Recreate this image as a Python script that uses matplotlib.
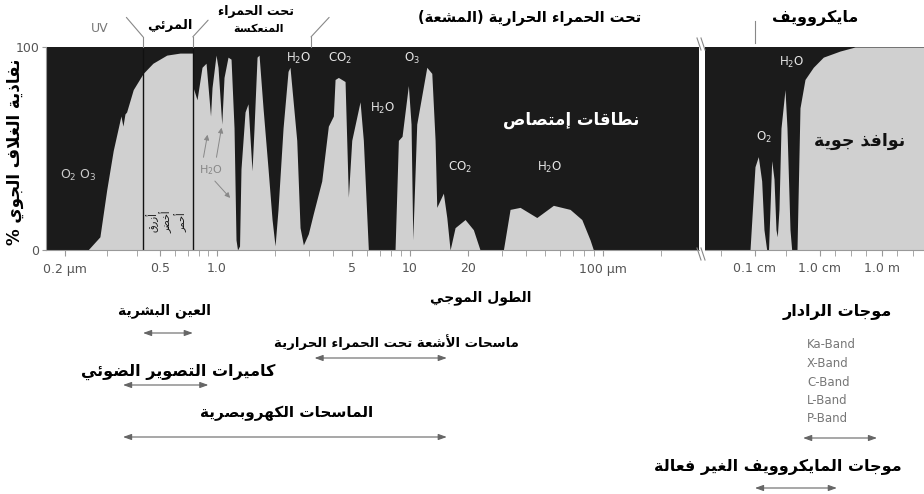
import numpy as np
import matplotlib
matplotlib.use('Agg')
import matplotlib.pyplot as plt
from matplotlib.lines import Line2D

# ---- data ----
# optical / infrared part: wavelength (µm) and atmospheric transmission (%)
wl_um = [0.1665, 0.2495, 0.280, 0.2989, 0.3184, 0.3430, 0.3497, 0.3565, 0.3623, 0.3862,
         0.4251, 0.4669, 0.5426, 0.6376, 0.744, 0.748, 0.784, 0.833, 0.875, 0.907,
         0.924, 0.941, 0.988, 1.012, 1.058, 1.087, 1.140, 1.182, 1.225, 1.254,
         1.277, 1.308, 1.331, 1.397, 1.447, 1.483, 1.518, 1.555, 1.612, 1.651,
         1.731, 1.838, 1.928, 1.998, 2.070, 2.198, 2.333, 2.388, 2.588, 2.692,
         2.801, 2.972, 3.155, 3.487, 3.773, 4.006, 4.088, 4.252, 4.605, 4.790,
         4.988, 5.508, 5.728, 6.081, 8.36, 8.70, 9.09, 9.80, 10.12, 10.33,
         10.83, 12.21, 12.96, 13.48, 13.75, 14.88, 15.50, 16.12, 17.11, 19.28,
         21.28, 23.05, 30.44, 32.97, 37.15, 45.35, 55.27, 67.45, 77.58, 85.6,
         89.1, 314]
trans_ir = [0, 0, 6.5, 29.5, 49, 66, 61, 67, 68, 79,
            87, 92, 96, 97, 97, 80, 74, 90, 92, 75,
            66, 80, 96, 90, 62, 85, 95, 94, 60, 5,
            0, 2, 40, 68, 72, 55, 39, 60, 95, 96,
            70, 40, 15, 2, 20, 60, 88, 90, 54, 11,
            2.5, 8, 18, 34, 61, 66, 84, 85, 83, 26,
            54, 73, 54, 0, 0, 54, 56, 81, 62, 5,
            62, 90, 87, 54, 21, 28, 16, 0, 11, 15,
            10, 0, 0, 20, 21, 16, 22, 20, 15, 5,
            0, 0]

# microwave part: wavelength (cm) and transmission (%)
wl_cm = [0.01702, 0.0838, 0.1, 0.1124, 0.1267, 0.1374, 0.1514, 0.1614, 0.1808, 0.196,
         0.2104, 0.2203, 0.2339, 0.2512, 0.2896, 0.3105, 0.3455, 0.3669, 0.4427, 0.4923,
         0.5877, 0.7887, 1.278, 4.42, 13.5, 2264]
trans_mw = [0, 0, 41, 46, 34, 10, 0, 0, 44, 35,
            10, 6.5, 20, 60, 79, 60, 10, 0, 0, 70,
            84, 90, 95, 98, 100, 100]

visible_edges = [0.4245, 0.745]      # µm
reflected_ir_end = 3.07              # µm

ticks_um = [0.2, 0.5, 1.0, 5, 10, 20, 100]
tick_labels_um = ['0.2 µm', '0.5', '1.0', '5', '10', '20', '100 µm']
minor_um = [0.3, 0.4, 0.6, 0.7, 0.8, 0.9, 2, 3, 4, 6, 7, 8, 9,
            30, 40, 50, 60, 70, 80, 90, 200]
ticks_cm = [0.1, 1.0, 100]
tick_labels_cm = ['0.1 cm', '1.0 cm', '1.0 m']
minor_cm = [0.03, 0.3, 3, 10, 30, 300, 1000]

# sensor ranges
eye_um = (0.4245, 0.745)
thermal_um = (3.2, 15.5)
camera_um = (0.35, 0.9)
eo_um = (0.35, 15.5)
radar_cm = (0.55, 69)
passive_cm = (0.1, 3.5)
radar_bands = ['Ka-Band', 'X-Band', 'C-Band', 'L-Band', 'P-Band']

# ---- minimal Arabic shaping (matplotlib draws glyphs left to right, unjoined) ----
_D = dict(zip('ئبتثجحخسشصضطظعغفقكلمنهي',
              [0xFE89, 0xFE8F, 0xFE95, 0xFE99, 0xFE9D, 0xFEA1, 0xFEA5, 0xFEB1, 0xFEB5, 0xFEB9,
               0xFEBD, 0xFEC1, 0xFEC5, 0xFEC9, 0xFECD, 0xFED1, 0xFED5, 0xFED9, 0xFEDD, 0xFEE1,
               0xFEE5, 0xFEE9, 0xFEF1]))
_R = dict(zip('آأؤإاةدذرزوى',
              [0xFE81, 0xFE83, 0xFE85, 0xFE87, 0xFE8D, 0xFE93, 0xFEA9, 0xFEAB, 0xFEAD, 0xFEAF,
               0xFEED, 0xFEEF]))
_LA = {'آ': 0xFEF5, 'أ': 0xFEF7, 'إ': 0xFEF9, 'ا': 0xFEFB}


def ar(s):
    toks = []
    i = 0
    while i < len(s):
        if s[i] == 'ل' and i + 1 < len(s) and s[i + 1] in _LA:
            toks.append(s[i:i + 2])
            i += 2
        else:
            toks.append(s[i])
            i += 1

    def kind(t):
        if t in _D:
            return 'D'
        if t in _R or len(t) == 2:
            return 'R'
        return 'U'

    out = []
    for k, t in enumerate(toks):
        kd = kind(t)
        prev = int(k > 0 and kind(toks[k - 1]) == 'D' and kd != 'U')
        nxt = int(kd == 'D' and k + 1 < len(toks) and kind(toks[k + 1]) != 'U')
        if len(t) == 2:
            out.append(chr(_LA[t[1]] + prev))
        elif kd == 'R':
            out.append(chr(_R[t] + prev))
        elif kd == 'D':
            out.append(chr(_D[t] + [[0, 2], [1, 3]][prev][nxt]))
        else:
            out.append({'(': ')', ')': '('}.get(t, t))
    return ''.join(reversed(out))


# piecewise log axis (the original drawing is not a strict log scale)
def logpiece(lg, px):
    lg = np.asarray(lg, float)
    px = np.asarray(px, float)
    s0 = (px[1] - px[0]) / (lg[1] - lg[0])
    s1 = (px[-1] - px[-2]) / (lg[-1] - lg[-2])
    lg = np.r_[lg[0] - 30, lg, lg[-1] + 30]
    px = np.r_[px[0] - 30 * s0, px, px[-1] + 30 * s1]

    def fwd(x):
        return np.interp(np.log10(np.maximum(x, 1e-35)), lg, px)

    def inv(p):
        return 10 ** np.interp(p, px, lg)
    return fwd, inv


plt.rcParams['font.family'] = ['DejaVu Sans']
W, H = 924, 494
DARK = '#1b1b1b'
LIGHT = '#d0d0d0'

fig = plt.figure(figsize=(W / 100, H / 100), dpi=100)
ax = fig.add_axes([46 / W, 1 - 250 / H, 653 / W, 203 / H])
ax2 = fig.add_axes([705 / W, 1 - 250 / H, 219 / W, 203 / H])

ax.set_xscale('function', functions=logpiece([np.log10(0.2), np.log10(0.5), 0, 2], [65, 160, 217, 603]))
ax2.set_xscale('function', functions=logpiece([-1, 0, 2], [755, 820, 882]))

for a in (ax, ax2):
    a.set_facecolor(DARK)
    a.set_ylim(0, 100)
    for sp in ('top', 'right'):
        a.spines[sp].set_visible(False)
    a.spines['bottom'].set_color('#999')
    a.tick_params(axis='x', which='both', direction='out', length=4, color='#999',
                  labelsize=9, labelcolor='#555', pad=5)

ax.fill_between(wl_um, trans_ir, 0, color=LIGHT, lw=0)
ax.set_xlim(0.1665, 314)
ax.set_xticks(ticks_um, labels=tick_labels_um)
ax.set_xticks(minor_um, minor=True)
ax.set_yticks([0, 100])
ax.tick_params(axis='y', length=3, color='#999', labelsize=9, labelcolor='#555', pad=2)
ax.spines['left'].set_color('#999')

ax2.fill_between(wl_cm, trans_mw, 0, color=LIGHT, lw=0)
ax2.set_xlim(0.01702, 2264)
ax2.set_xticks(ticks_cm, labels=tick_labels_cm)
ax2.set_xticks(minor_cm, minor=True)
ax2.set_yticks([])
ax2.spines['left'].set_visible(False)

# visible band edges and leader lines up to the region names
for x in visible_edges:
    ax.axvline(x, color='#111', lw=1)
trx = ax.get_xaxis_transform()
for x, dx, dy in [(visible_edges[0], -12, 14), (visible_edges[1], 11, 12), (reflected_ir_end, 13, 14)]:
    ax.plot([x, x], [1, 1.05], transform=trx, color='#888', lw=0.8, clip_on=False)
    ax.annotate('', xy=(x, 1.05), xycoords=trx, xytext=(dx, dy), textcoords='offset points',
                arrowprops=dict(arrowstyle='-', color='#888', lw=0.8, shrinkA=0, shrinkB=0))
ax2.plot([0.1, 0.1], [1.02, 1.13], transform=ax2.get_xaxis_transform(), color='#888', lw=0.8, clip_on=False)

# panel break marks
for y0 in (38, 248):
    for dx in (0, 4):
        fig.add_artist(Line2D([(697 + dx) / W, (701 + dx) / W], [1 - y0 / H, 1 - (y0 + 12) / H],
                              color='#888', lw=0.8))


def put(x, y, s, **kw):
    kw.setdefault('ha', 'center')
    kw.setdefault('va', 'center')
    fig.text(x / W, 1 - y / H, s, **kw)


# region names above the chart
put(100, 29, 'UV', fontsize=9, color='#777')
put(170, 26, ar('المرئي'), fontsize=9.5, fontweight='bold')
put(256, 12, ar('تحت الحمراء'), fontsize=9, fontweight='bold')
put(258, 29, ar('المنعكسة'), fontsize=8, fontweight='bold')
put(530, 18, ar('تحت الحمراء الحرارية (المشعة)'), fontsize=10.5, fontweight='bold')
put(815, 18, ar('مايكروويف'), fontsize=11.5, fontweight='bold')
put(15, 152, ar('نفاذية الغلاف الجوي %'), fontsize=12, fontweight='bold', rotation=90)

# labels inside the chart
put(78, 175, 'O$_2$ O$_3$', fontsize=9, color='#cccccc')
put(211, 170, 'H$_2$O', fontsize=8, color='#888888')
for (x0, y0), (x1, y1) in [((203, 160), (208, 132)), ((216, 160), (222, 125)), ((213, 179), (232, 200))]:
    fig.add_artist(matplotlib.patches.FancyArrowPatch(
        (x0 / W, 1 - y0 / H), (x1 / W, 1 - y1 / H), transform=fig.transFigure,
        arrowstyle='-|>,head_length=3,head_width=1.5', color='#888', lw=0.7))
for x, y, s in [(299, 58, 'H$_2$O'), (340, 58, 'CO$_2$'), (383, 108, 'H$_2$O'), (412, 58, 'O$_3$'),
                (460, 167, 'CO$_2$'), (550, 167, 'H$_2$O'), (764, 137, 'O$_2$'), (792, 62, 'H$_2$O')]:
    put(x, y, s, fontsize=8.5, color='#e6e6e6')
put(571, 120, ar('نطاقات إمتصاص'), fontsize=12, fontweight='bold', color='white')
put(860, 141, ar('نوافذ جوية'), fontsize=12.5, fontweight='bold', color='#111')
for x, s in [(152, 'أزرق'), (166, 'أخضر'), (181, 'أحمر')]:
    put(x, 222, ar(s), fontsize=7, rotation=90, color='#111')

# sensors below the chart
put(481, 298, ar('الطول الموجي'), fontsize=10, fontweight='bold')
put(164, 311, ar('العين البشرية'), fontsize=10, fontweight='bold')
put(396, 342, ar('ماسحات الأشعة تحت الحمراء الحرارية'), fontsize=9.5, fontweight='bold')
put(178, 372, ar('كاميرات التصوير الضوئي'), fontsize=11.5, fontweight='bold')
put(287, 413, ar('الماسحات الكهروبصرية'), fontsize=11, fontweight='bold')
put(837, 312, ar('موجات الرادار'), fontsize=11.5, fontweight='bold')
put(778, 467, ar('موجات المايكروويف الغير فعالة'), fontsize=11.5, fontweight='bold')
for k, s in enumerate(radar_bands):
    put(807, 345 + 18.5 * k, s, fontsize=8.5, color='#777', ha='left')


def span(a, rng, y):
    a.annotate('', xy=(rng[1], 1 - y / H), xytext=(rng[0], 1 - y / H),
               xycoords=('data', 'figure fraction'), textcoords=('data', 'figure fraction'),
               arrowprops=dict(arrowstyle='<|-|>,head_length=0.5,head_width=0.18', color='#666',
                               lw=0.8, shrinkA=0, shrinkB=0),
               annotation_clip=False)


span(ax, eye_um, 333)
span(ax, thermal_um, 358)
span(ax, camera_um, 385)
span(ax, eo_um, 437)
span(ax2, radar_cm, 438)
span(ax2, passive_cm, 488)

fig.savefig('out.png', dpi=100)
